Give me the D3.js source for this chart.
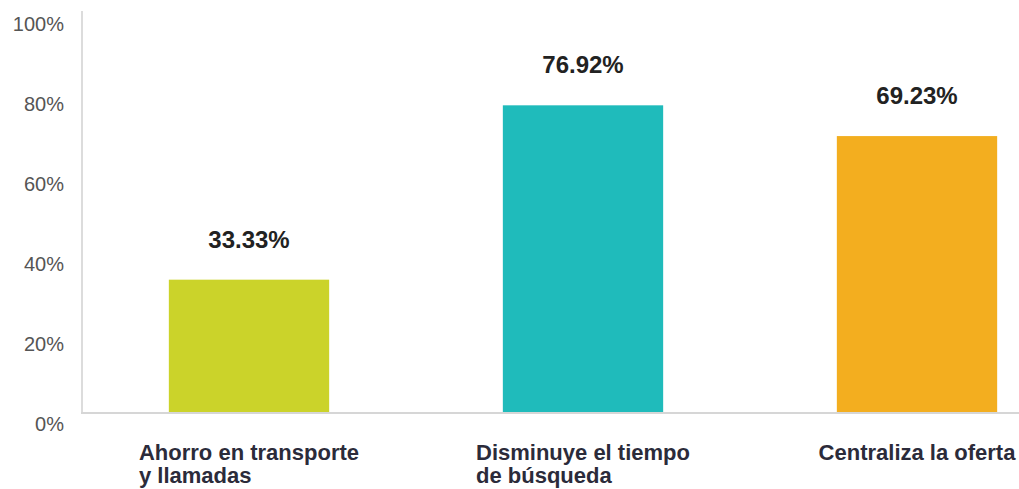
<!DOCTYPE html>
<html>
<head>
<meta charset="utf-8">
<script src="https://cdn.jsdelivr.net/npm/d3@7"></script>
<style>
  body { margin: 0; background: #fff; }
  text { font-family: "Liberation Sans", Arial, sans-serif; }
</style>
</head>
<body>
<svg id="chart" width="1019" height="489"></svg>
<script>
// chart data
const categories = [["Ahorro en transporte", "y llamadas"], ["Disminuye el tiempo", "de búsqueda"], ["Centraliza la oferta"]];
const values = [33.33, 76.92, 69.23];
const colors = ["#cbd32a", "#1fbbbb", "#f3ae1f"];
const yTicks = [0, 20, 40, 60, 80, 100];

const svg = d3.select("#chart");
const plotLeft = 82, plotTop = 13, plotBottom = 413;

const x = d3.scaleBand()
    .domain(d3.range(values.length))
    .range([plotLeft, 1084])
    .paddingInner(0.52)
    .paddingOuter(0.26);

const y = d3.scaleLinear().domain([0, 100]).range([plotBottom, plotTop]);

// tick labels
svg.selectAll(".ytick")
    .data(yTicks)
    .enter()
    .append("text")
    .attr("x", 64)
    .attr("y", d => y(d) + 18)
    .attr("text-anchor", "end")
    .attr("fill", "#555")
    .style("font-size", "20px")
    .text(d => d + "%");

// bars
svg.selectAll(".bar")
    .data(values)
    .enter()
    .append("rect")
    .attr("x", (d, i) => x(i))
    .attr("y", d => y(d))
    .attr("width", x.bandwidth())
    .attr("height", d => plotBottom - y(d))
    .attr("fill", (d, i) => colors[i]);

// axis lines
svg.append("line")
    .attr("x1", plotLeft).attr("x2", plotLeft)
    .attr("y1", plotTop - 2).attr("y2", plotBottom)
    .attr("stroke", "#dcdcdc")
    .attr("stroke-width", 2);

svg.append("line")
    .attr("x1", plotLeft - 1).attr("x2", 1019)
    .attr("y1", plotBottom).attr("y2", plotBottom)
    .attr("stroke", "#d6d6d6")
    .attr("stroke-width", 2);

// value labels
svg.selectAll(".val")
    .data(values)
    .enter()
    .append("text")
    .attr("x", (d, i) => x(i) + x.bandwidth() / 2)
    .attr("y", d => y(d) - 32)
    .attr("text-anchor", "middle")
    .attr("fill", "#222")
    .style("font-size", "24px")
    .style("font-weight", "bold")
    .text(d => d.toFixed(2) + "%");

// category labels, block centred under bar, lines left aligned
categories.forEach((lines, i) => {
    const g = svg.append("text")
        .attr("fill", "#2b2b3a")
        .style("font-size", "22px")
        .style("font-weight", "bold");
    lines.forEach((l, j) => {
        g.append("tspan")
            .attr("y", 460 + j * 23)
            .text(l);
    });
    const w = d3.max(g.selectAll("tspan").nodes(), n => n.getComputedTextLength());
    g.selectAll("tspan").attr("x", x(i) + x.bandwidth() / 2 - w / 2);
});
</script>
</body>
</html>
